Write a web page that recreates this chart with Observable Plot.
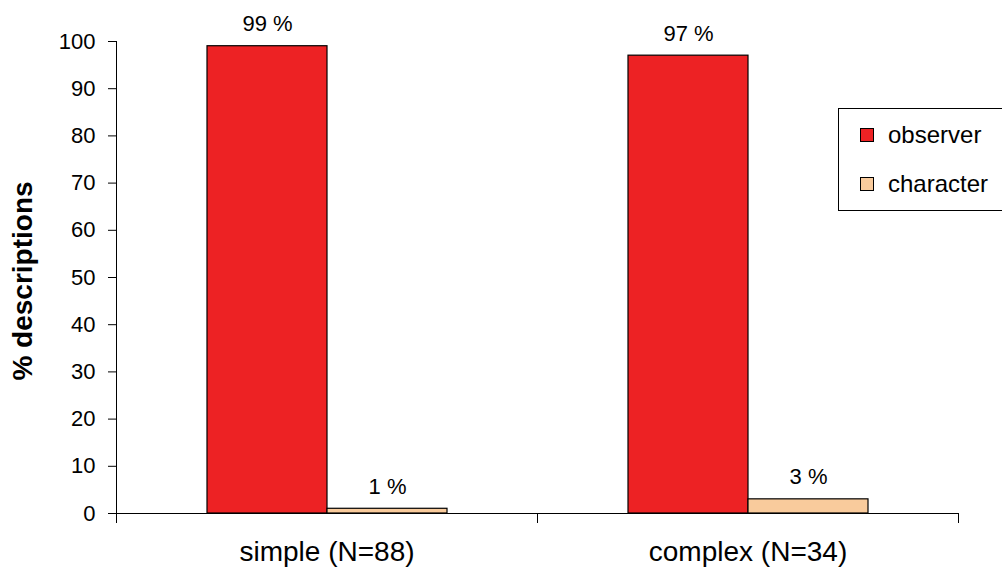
<!DOCTYPE html>
<html>
<head>
<meta charset="utf-8">
<script src="https://cdn.jsdelivr.net/npm/d3@7"></script>
<script src="https://cdn.jsdelivr.net/npm/@observablehq/plot@0.6"></script>
<style>
  html, body { margin: 0; padding: 0; background: #fff; overflow: hidden; }
  #wrap { position: relative; width: 1002px; height: 571px; font-family: "Liberation Sans", Arial, sans-serif; }
  #legend { position: absolute; left: 838px; top: 108px; width: 175px; height: 103px; border: 1px solid #000; background: #fff; box-sizing: border-box; }
  .item { position: absolute; left: 21px; display: flex; align-items: center; font-size: 24px; color: #000; }
  .sw { width: 12px; height: 12px; border: 1px solid #000; margin-right: 14px; }
</style>
</head>
<body>
<div id="wrap"></div>
<script>
const groups = ["simple (N=88)", "complex (N=34)"];
const series = ["observer", "character"];
const observerValues = [99, 97];
const characterValues = [1, 3];
const seriesColors = ["#ED2224", "#F9CB9C"];
const yTicks = [0, 10, 20, 30, 40, 50, 60, 70, 80, 90, 100];
const yLabel = "% descriptions";

const valuesBySeries = [observerValues, characterValues];
const data = groups.flatMap((g, i) => series.map((s, j) => ({group: g, series: s, value: valuesBySeries[j][i]})));

const chart = Plot.plot({
  width: 1002,
  height: 571,
  marginLeft: 116,
  marginRight: 44,
  marginTop: 41,
  marginBottom: 58,
  style: {fontFamily: '"Liberation Sans", Arial, sans-serif', color: "#000", background: "#fff"},
  fx: {domain: groups, padding: 0, label: null},
  x: {domain: series, paddingInner: 0, paddingOuter: 0.74, axis: null},
  y: {domain: [0, 100], label: null},
  color: {domain: series, range: seriesColors},
  marks: [
    Plot.axisY({ticks: yTicks, tickSize: 8, tickPadding: 13, fontSize: 22, label: null, stroke: "#000"}),
    Plot.axisFx({anchor: "bottom", tickSize: 0, tickPadding: 28, fontSize: 28, label: null}),
    Plot.barY(data, {fx: "group", x: "series", y: "value", fill: "series", stroke: "#000", strokeWidth: 1.2}),
    Plot.ruleY([0], {stroke: "#000", strokeWidth: 1}),
    Plot.text(data, {fx: "group", x: "series", y: "value", text: d => `${d.value} %`, dy: -22, fontSize: 22, fill: "#000"})
  ]
});

// axis lines and between-category tick marks, positioned with the plot's own scales
const fx = chart.scale("fx");
const y = chart.scale("y");
const svg = d3.select(chart);
const y0 = y.apply(0), y100 = y.apply(100);
const x0 = fx.apply(groups[0]);
const bounds = groups.map(g => fx.apply(g)).concat([fx.apply(groups[groups.length - 1]) + fx.bandwidth]);
const g = svg.append("g").attr("stroke", "#000").attr("stroke-width", 1);
g.append("line").attr("x1", x0 + 0.5).attr("x2", x0 + 0.5).attr("y1", y100).attr("y2", y0);
bounds.forEach(b => g.append("line").attr("x1", b + 0.5).attr("x2", b + 0.5).attr("y1", y0).attr("y2", y0 + 10));
svg.append("text")
  .attr("transform", `translate(25,${(y0 + y100) / 2 + 4}) rotate(-90)`)
  .attr("text-anchor", "middle")
  .attr("dominant-baseline", "middle")
  .attr("font-size", 28)
  .attr("font-weight", "bold")
  .attr("fill", "#000")
  .text(yLabel);

const wrap = document.getElementById("wrap");
wrap.appendChild(chart);

// legend
const legend = document.createElement("div");
legend.id = "legend";
series.forEach((s, i) => {
  const item = document.createElement("div");
  item.className = "item";
  item.style.top = (i === 0 ? 12 : 61) + "px";
  const sw = document.createElement("div");
  sw.className = "sw";
  sw.style.background = seriesColors[i];
  const label = document.createElement("span");
  label.textContent = s;
  item.appendChild(sw);
  item.appendChild(label);
  legend.appendChild(item);
});
wrap.appendChild(legend);
</script>
</body>
</html>
